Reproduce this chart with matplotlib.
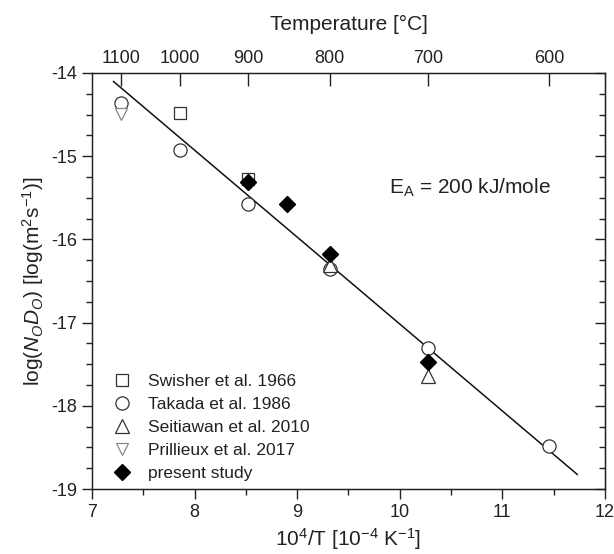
import numpy as np
import matplotlib
matplotlib.use("Agg")
import matplotlib.pyplot as plt
from matplotlib.ticker import MultipleLocator

plt.rcParams['font.family'] = ['Liberation Sans', 'DejaVu Sans']
plt.rcParams['mathtext.fontset'] = 'custom'
plt.rcParams['mathtext.rm'] = 'Liberation Sans'
plt.rcParams['mathtext.it'] = 'Liberation Sans:italic'
plt.rcParams['axes.unicode_minus'] = False

# ---- data ----
temps_c = [1100, 1000, 900, 800, 700, 600]          # top axis tick labels

swisher_x = [7.855, 8.525]
swisher_y = [-14.48, -15.27]

takada_x = [7.283, 7.855, 8.525, 9.319, 10.276, 11.453]
takada_y = [-14.36, -14.92, -15.58, -16.35, -17.31, -18.48]

seitiawan_x = [9.319, 10.276]
seitiawan_y = [-16.31, -17.64]

prillieux_x = [7.283]
prillieux_y = [-14.49]

present_x = [8.525, 8.904, 9.319, 10.276]
present_y = [-15.31, -15.58, -16.18, -17.47]

E_A = 200e3          # J/mol
fit_intercept = -6.57
fit_range = [7.21, 11.73]

R = 8.314
txtc = '#222222'

fig = plt.figure(figsize=(6.14, 5.54), dpi=100)
ax = fig.add_axes([0.1498, 0.1173, 0.8355, 0.751])

slope = -E_A / (R * np.log(10)) * 1e-4
xf = np.array(fit_range)
ax.plot(xf, fit_intercept + slope * xf, color='#111111', lw=1.1, zorder=1)

ms = 9
ax.plot(swisher_x, swisher_y, 's', mfc='white', mec='#333333', mew=0.9, ms=ms - 0.5,
        label='Swisher et al. 1966', zorder=2)
ax.plot(takada_x, takada_y, 'o', mfc='white', mec='#333333', mew=0.9, ms=ms + 0.5,
        label='Takada et al. 1986', zorder=2)
ax.plot(seitiawan_x, seitiawan_y, '^', mfc='white', mec='#333333', mew=0.9, ms=ms + 1,
        label='Seitiawan et al. 2010', zorder=2)
ax.plot(prillieux_x, prillieux_y, 'v', mfc='white', mec='#888888', mew=0.9, ms=ms,
        label='Prillieux et al. 2017', zorder=2)
ax.plot(present_x, present_y, 'D', mfc='black', mec='black', ms=ms - 0.5,
        label='present study', zorder=3)

ax.set_xlim(7, 12)
ax.set_ylim(-19, -14)
ax.xaxis.set_major_locator(MultipleLocator(1))
ax.xaxis.set_minor_locator(MultipleLocator(0.5))
ax.yaxis.set_major_locator(MultipleLocator(1))
ax.yaxis.set_minor_locator(MultipleLocator(0.25))
ax.tick_params(axis='both', which='major', direction='out', length=7, width=1,
               labelsize=13, colors='#222222', labelcolor=txtc)
ax.tick_params(axis='both', which='minor', direction='out', length=4, width=1,
               colors='#222222')
ax.tick_params(top=False, which='both')
for s in ax.spines.values():
    s.set_color('#222222')
    s.set_linewidth(1)

ax.set_xlabel(r'10$^4$/T [10$^{-4}$ K$^{-1}$]', fontsize=15, color=txtc, labelpad=4)
ax.set_ylabel(r'log($N_O D_O$) [log(m$^2$s$^{-1}$)]', fontsize=15, color=txtc, labelpad=4)

ax.text(10.68, -15.38, r'E$_\mathrm{A}$ = 200 kJ/mole', fontsize=15, color=txtc,
        ha='center', va='center')

# right axis: inward ticks only
right = ax.secondary_yaxis('right')
right.yaxis.set_major_locator(MultipleLocator(1))
right.yaxis.set_minor_locator(MultipleLocator(0.25))
right.tick_params(which='major', direction='in', length=7, width=1, colors='#222222',
                  labelright=False)
right.tick_params(which='minor', direction='in', length=4, width=1, colors='#222222')
right.spines['right'].set_color('#222222')

top = ax.twiny()
top.set_xlim(ax.get_xlim())
top.set_xticks([1e4 / (t + 273.15) for t in temps_c])
top.set_xticklabels([str(t) for t in temps_c])
top.tick_params(axis='x', direction='in', length=9, width=1, labelsize=13,
                colors='#222222', labelcolor=txtc, pad=4)
top.set_xlabel('Temperature [°C]', fontsize=15, color=txtc, labelpad=15)
for s in top.spines.values():
    s.set_color('#222222')

leg = ax.legend(loc='lower left', bbox_to_anchor=(0.015, -0.01), frameon=False,
                fontsize=12.5, handletextpad=0.9, labelspacing=0.45,
                handlelength=1.2, borderaxespad=0.3)
for t in leg.get_texts():
    t.set_color(txtc)

fig.savefig('out.png', dpi=100)
